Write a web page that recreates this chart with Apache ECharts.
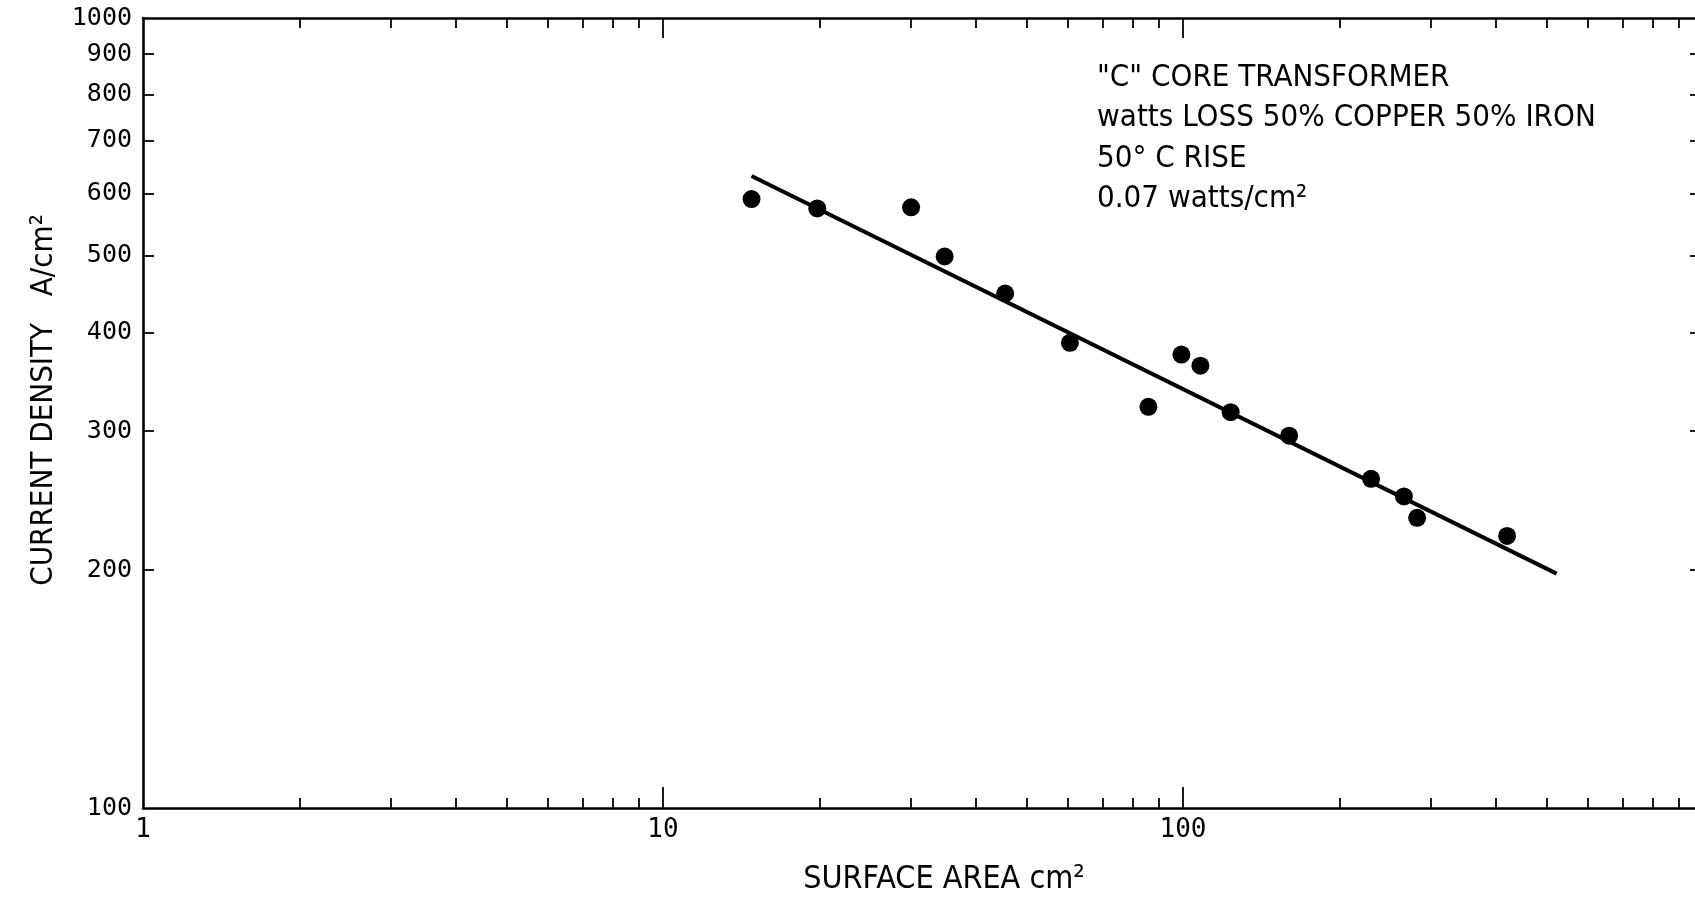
<!DOCTYPE html>
<html>
<head>
<meta charset="utf-8">
<script src="https://cdn.jsdelivr.net/npm/echarts@6/dist/echarts.min.js"></script>
<style>
html,body{margin:0;padding:0;background:#fff;}
#chart{width:1695px;height:906px;}
</style>
</head>
<body>
<div id="chart"></div>
<script>
// ---- data ----
const surfaceArea = [14.8, 19.8, 30, 34.8, 45.5, 60.6, 85.8, 99.3, 108, 123.5, 160, 230, 266, 282, 420];
const currentDensity = [590, 574, 576, 499, 448, 388, 322, 375, 363, 317, 296, 261, 248, 233, 221];
const fitLineX = [14.8, 523];
const fitLineY = [631, 198];
const xLabelValues = [1, 10, 100];
const xMajorTicks = [10, 100];
const xMinorTicks = [2, 3, 4, 5, 6, 7, 8, 9, 20, 30, 40, 50, 60, 70, 80, 90, 200, 300, 400, 500, 600, 700, 800, 900];
const yLabelValues = [100, 200, 300, 400, 500, 600, 700, 800, 900, 1000];
const yMinorTicks = [200, 300, 400, 500, 600, 700, 800, 900];
const annotationLines = ['"C" CORE TRANSFORMER', 'watts LOSS 50% COPPER 50% IRON', '50° C RISE', '0.07 watts/cm²'];
const xTitle = 'SURFACE AREA cm²';
const yTitle = 'CURRENT DENSITY   A/cm²';

const INK = '#000';
const numFont = "'DejaVu Sans Mono', 'Liberation Mono', monospace";
const txtFont = "'Liberation Sans Narrow', 'DejaVu Sans Condensed', 'Liberation Sans', sans-serif";

const chart = echarts.init(document.getElementById('chart'), null, {renderer: 'canvas'});

function xAx(opts) {
  return Object.assign({
    type: 'log', logBase: 10, min: 1, max: 1000, gridIndex: 0,
    splitLine: {show: false},
    axisLine: {show: false},
    axisLabel: {show: false},
    axisTick: {show: false}
  }, opts);
}

const option = {
  backgroundColor: '#fff',
  animation: false,
  grid: {left: 143, top: 18, width: 1560, height: 790, containLabel: false, outerBoundsMode: 'none'},
  xAxis: [
    xAx({
      position: 'bottom',
      axisLine: {show: true, lineStyle: {color: INK, width: 2.6}},
      axisTick: {show: true, inside: true, length: 10, lineStyle: {color: INK, width: 1.8}, customValues: xMinorTicks},
      axisLabel: {show: true, customValues: xLabelValues, color: INK, fontFamily: numFont, fontSize: 26, margin: 9,
                  formatter: v => String(Math.round(v))},
      name: xTitle, nameLocation: 'middle', nameGap: 56,
      nameTextStyle: {color: INK, fontFamily: txtFont, fontSize: 32, padding: [0, 0, 0, 42]}
    }),
    xAx({
      position: 'bottom',
      axisTick: {show: true, inside: true, length: 21, lineStyle: {color: INK, width: 1.8}, customValues: xMajorTicks}
    }),
    xAx({
      position: 'top',
      axisLine: {show: true, lineStyle: {color: INK, width: 2.6}},
      axisTick: {show: true, inside: true, length: 10, lineStyle: {color: INK, width: 1.8}, customValues: xMinorTicks}
    }),
    xAx({
      position: 'top',
      axisTick: {show: true, inside: true, length: 20, lineStyle: {color: INK, width: 1.8}, customValues: xMajorTicks}
    })
  ],
  yAxis: [
    {
      type: 'log', logBase: 10, min: 100, max: 1000, position: 'left', gridIndex: 0,
      splitLine: {show: false},
      axisLine: {show: true, lineStyle: {color: INK, width: 2.6}},
      axisTick: {show: true, inside: true, length: 11, lineStyle: {color: INK, width: 1.8}, customValues: yMinorTicks},
      axisLabel: {show: true, customValues: yLabelValues, color: INK, fontFamily: numFont, fontSize: 25, margin: 11,
                  formatter: v => String(Math.round(v))},
      name: yTitle, nameLocation: 'middle', nameRotate: 90, nameGap: 84,
      nameTextStyle: {color: INK, fontFamily: txtFont, fontSize: 31, padding: [0, 0, 0, 26]}
    },
    {
      type: 'log', logBase: 10, min: 100, max: 1000, position: 'right', gridIndex: 0,
      splitLine: {show: false},
      axisLine: {show: true, lineStyle: {color: INK, width: 2.6}},
      axisTick: {show: true, inside: true, length: 13, lineStyle: {color: INK, width: 1.8}, customValues: yMinorTicks},
      axisLabel: {show: false}
    }
  ],
  graphic: annotationLines.map((t, i) => ({
    type: 'text', left: 1097, top: 62 + i * 40.5, z: 10,
    style: {text: t, fill: INK, font: '31px ' + txtFont}
  })),
  series: [
    {
      type: 'line', xAxisIndex: 0, yAxisIndex: 0,
      data: fitLineX.map((x, i) => [x, fitLineY[i]]),
      showSymbol: false, symbol: 'none',
      lineStyle: {color: INK, width: 4, opacity: 1}, silent: true, z: 2
    },
    {
      type: 'scatter', xAxisIndex: 0, yAxisIndex: 0,
      data: surfaceArea.map((x, i) => [x, currentDensity[i]]),
      symbol: 'circle', symbolSize: 18,
      itemStyle: {color: INK, opacity: 1}, z: 3
    }
  ]
};
chart.setOption(option);
</script>
</body>
</html>
